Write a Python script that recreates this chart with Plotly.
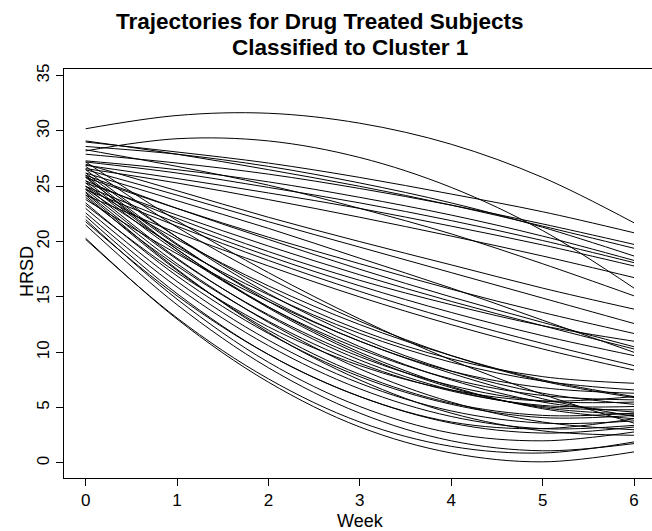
import plotly.graph_objects as go

weeks = [0, 1, 2, 3, 4, 5, 6]

# Fitted HRSD trajectories (weeks 0-6) for drug-treated subjects in cluster 1.
# Slow decliners, still high at week 6
slow_decline = [
    [30.2, 31.4, 31.6, 30.7, 28.8, 25.8, 21.7],
    [28.2, 29.3, 29.1, 27.6, 24.9, 21.0, 15.8],
    [29.1, 27.9, 26.5, 25.0, 23.3, 21.4, 19.4],
    [29.0, 28.1, 27.1, 25.8, 24.3, 22.7, 20.8],
    [28.6, 27.9, 26.8, 25.3, 23.5, 21.3, 18.7],
    [27.9, 27.1, 26.1, 24.8, 23.3, 21.6, 19.75],
    [27.3, 26.5, 25.4, 24.0, 22.4, 20.5, 18.3],
    [27.2, 26.2, 24.9, 23.5, 21.9, 20.1, 18.1],
    [26.9, 25.7, 24.4, 23.0, 21.4, 19.7, 17.8],
    [26.6, 25.3, 23.8, 22.2, 20.5, 18.7, 16.75],
    [28.3, 26.8, 25.1, 23.0, 20.7, 18.0, 15.1],
]

# Steady, near-linear decliners
steady_decline = [
    [27.0, 24.6, 22.2, 20.0, 17.9, 15.8, 13.9],
    [26.5, 24.2, 21.8, 19.5, 17.2, 14.9, 12.6],
    [25.8, 23.0, 20.4, 18.0, 15.7, 13.6, 11.7],
    [26.0, 23.0, 20.2, 17.5, 15.0, 12.7, 10.5],
    [25.3, 22.4, 19.6, 17.0, 14.6, 12.4, 10.3],
    [25.0, 21.7, 18.7, 16.0, 13.6, 11.5, 9.7],
    [24.7, 21.4, 18.3, 15.5, 13.0, 10.8, 8.8],
    [24.2, 20.8, 17.8, 15.0, 12.5, 10.3, 8.4],
    [26.2, 23.7, 21.2, 18.5, 15.8, 12.9, 10.0],
    [25.5, 22.1, 19.1, 16.5, 14.3, 12.4, 11.0],
]

# Fast responders, levelling off near the bottom
fast_decline = [
    [20.3, 13.0, 7.3, 3.25, 0.9, 0.1, 1.0],
    [20.2, 13.1, 7.6, 3.7, 1.5, 0.9, 1.9],
    [21.5, 14.3, 8.6, 4.5, 2.0, 1.1, 1.75],
    [22.0, 14.8, 9.1, 5.1, 2.7, 2.0, 2.8],
    [21.8, 15.1, 9.8, 6.0, 3.6, 2.7, 3.25],
    [22.3, 15.3, 9.8, 6.0, 3.7, 3.1, 4.0],
    [22.6, 15.9, 10.6, 6.7, 4.2, 3.1, 3.4],
    [23.0, 16.4, 11.1, 7.2, 4.7, 3.6, 3.8],
    [23.5, 16.9, 11.7, 7.8, 5.3, 4.1, 4.3],
    [24.2, 17.4, 12.0, 8.0, 5.4, 4.3, 4.5],
    [24.5, 18.0, 12.7, 8.5, 5.5, 3.7, 3.0],
    [24.0, 17.8, 12.8, 9.0, 6.5, 5.2, 5.1],
    [25.0, 18.5, 13.3, 9.3, 6.6, 5.1, 4.8],
    [24.7, 18.4, 13.4, 9.6, 7.0, 5.6, 5.5],
    [25.5, 19.3, 14.1, 10.0, 6.9, 4.9, 4.0],
    [25.3, 19.1, 14.1, 10.3, 7.6, 6.1, 5.7],
    [26.0, 19.8, 14.6, 10.5, 7.5, 5.5, 4.6],
    [25.8, 19.7, 14.8, 11.0, 8.3, 6.8, 6.3],
    [26.5, 20.4, 15.3, 11.3, 8.3, 6.3, 5.3],
    [24.8, 19.5, 15.2, 11.7, 9.1, 7.4, 6.6],
    [26.2, 20.4, 15.7, 12.0, 9.4, 7.8, 7.2],
    [25.0, 20.2, 16.0, 12.5, 9.7, 7.5, 6.0],
    [26.8, 21.3, 16.7, 12.8, 9.7, 7.4, 5.9],
    [23.8, 18.9, 14.6, 11.0, 8.1, 5.8, 4.2],
    [27.2, 21.9, 17.2, 13.0, 9.3, 6.2, 3.6],
    [24.4, 17.5, 11.8, 7.5, 4.5, 2.9, 2.5],
    [23.3, 17.2, 12.3, 8.8, 6.6, 5.6, 6.0],
    [25.9, 19.3, 14.0, 9.8, 6.8, 5.0, 4.4],
]

x_ticks = [0, 1, 2, 3, 4, 5, 6]
y_ticks = [0, 5, 10, 15, 20, 25, 30, 35]

FONT = "Liberation Sans, Arial, Helvetica, sans-serif"

fig = go.Figure()
for subject in slow_decline + steady_decline + fast_decline:
    fig.add_trace(go.Scatter(
        x=weeks, y=subject, mode="lines",
        line=dict(color="black", width=1, shape="spline", smoothing=1.0),
        hoverinfo="skip", showlegend=False,
    ))

fig.update_layout(
    width=652, height=531,
    margin=dict(l=64, r=0, t=69, b=53),
    paper_bgcolor="white", plot_bgcolor="white",
    font=dict(family=FONT, color="black", size=17),
    showlegend=False,
)

fig.update_xaxes(
    range=[-0.237, 6.197], tickvals=x_ticks, ticktext=[str(v) for v in x_ticks],
    showgrid=False, zeroline=False,
    showline=True, linecolor="black", linewidth=1, mirror=True,
    ticks="outside", ticklen=7, tickcolor="black", tickwidth=1,
    tickfont=dict(size=17),
)
fig.update_yaxes(
    range=[-1.36, 35.6], tickvals=y_ticks, ticktext=[str(v) for v in y_ticks],
    showgrid=False, zeroline=False,
    showline=True, linecolor="black", linewidth=1,
    ticks="outside", ticklen=7, tickcolor="black", tickwidth=1,
    tickangle=-90, tickfont=dict(size=17),
)

# Title lines and axis titles
fig.add_annotation(text="<b>Trajectories for Drug Treated Subjects</b>",
                   xref="paper", yref="paper", x=(320 - 64) / 588, y=1 + (69 - 22) / 409,
                   showarrow=False, font=dict(size=22.5, family=FONT),
                   xanchor="center", yanchor="middle")
fig.add_annotation(text="<b>Classified to Cluster 1</b>",
                   xref="paper", yref="paper", x=(350 - 64) / 588, y=1 + (69 - 48) / 409,
                   showarrow=False, font=dict(size=22.5, family=FONT),
                   xanchor="center", yanchor="middle")
fig.add_annotation(text="Week", xref="paper", yref="paper",
                   x=(360 - 64) / 588, y=-(521 - 478) / 409,
                   showarrow=False, font=dict(size=18, family=FONT),
                   xanchor="center", yanchor="middle")
fig.add_annotation(text="HRSD", xref="paper", yref="paper",
                   x=-(64 - 27) / 588, y=(478 - 272) / 409, textangle=-90,
                   showarrow=False, font=dict(size=18, family=FONT),
                   xanchor="center", yanchor="middle")

fig.write_html("out.html")
